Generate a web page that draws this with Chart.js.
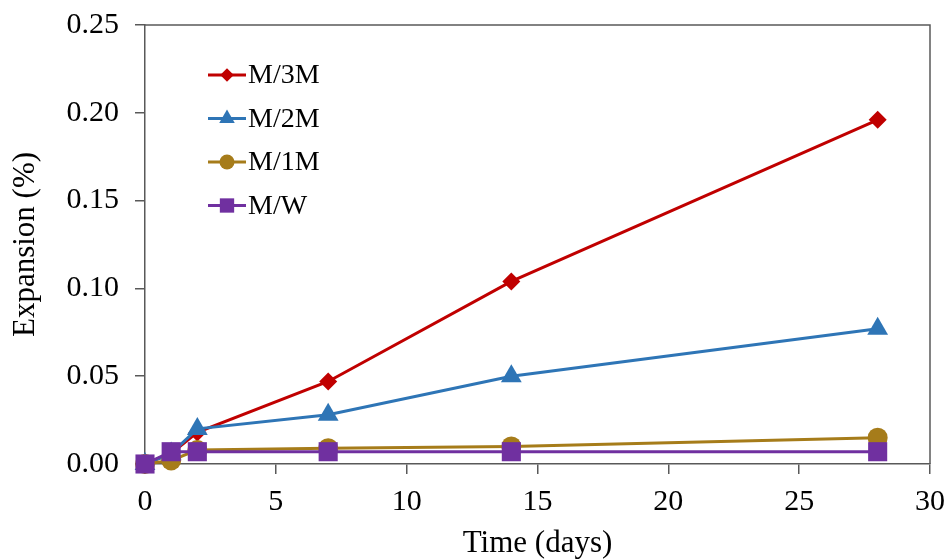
<!DOCTYPE html>
<html>
<head>
<meta charset="utf-8">
<script src="https://cdn.jsdelivr.net/npm/chart.js@4"></script>
<style>
  html, body { margin: 0; padding: 0; background: #fff; }
  #wrap { width: 951px; height: 559px; position: relative; }
</style>
</head>
<body>
<div id="wrap"><canvas id="c" width="951" height="559"></canvas></div>
<script>
// ---- Data ----
const days = [0, 1, 2, 7, 14, 28];
const seriesNames = ['M/3M', 'M/2M', 'M/1M', 'M/W'];
const m3m = [0, 0.006, 0.018, 0.047, 0.104, 0.196];
const m2m = [0, 0.006, 0.020, 0.028, 0.050, 0.077];
const m1m = [0, 0.002, 0.008, 0.009, 0.010, 0.015];
const mw  = [0, 0.007, 0.007, 0.007, 0.007, 0.007];
const xTicks = [0, 5, 10, 15, 20, 25, 30];
const yTicks = [0, 0.05, 0.10, 0.15, 0.20, 0.25];
const xTitle = 'Time (days)';
const yTitle = 'Expansion (%)';

// ---- Styles ----
const colors = ['#C00000', '#2E75B6', '#A67C1A', '#7030A0'];
const shapes = ['rectRot', 'triangle', 'circle', 'rect'];
const radii = [9, 12, 10, 13.5];
const values = [m3m, m2m, m1m, mw];
const FONT = "'Liberation Serif', 'Times New Roman', serif";

const datasets = values.map((vals, i) => ({
  label: seriesNames[i],
  data: days.map((d, j) => ({ x: d, y: vals[j] })),
  borderColor: colors[i],
  backgroundColor: colors[i],
  borderWidth: 3,
  pointStyle: shapes[i],
  pointRadius: radii[i],
  pointHoverRadius: radii[i],
  pointBorderWidth: 0,
  tension: 0,
  clip: false,
  order: 3 - i
}));

function drawMarker(ctx, style, r, x, y, color) {
  if (Chart.helpers && Chart.helpers.drawPoint) {
    ctx.fillStyle = color; ctx.strokeStyle = color; ctx.lineWidth = 0.001;
    Chart.helpers.drawPoint(ctx, { pointStyle: style, radius: r, rotation: 0, borderWidth: 0 }, x, y);
    return;
  }
  ctx.fillStyle = color;
  ctx.beginPath();
  if (style === 'circle') ctx.arc(x, y, r, 0, Math.PI * 2);
  else if (style === 'rect') { const s = r * Math.SQRT1_2; ctx.rect(x - s, y - s, 2 * s, 2 * s); }
  else if (style === 'rectRot') { ctx.moveTo(x - r, y); ctx.lineTo(x, y - r); ctx.lineTo(x + r, y); ctx.lineTo(x, y + r); ctx.closePath(); }
  else if (style === 'triangle') {
    let a = 0; ctx.moveTo(x + Math.sin(a) * r, y - Math.cos(a) * r);
    a += 2 * Math.PI / 3; ctx.lineTo(x + Math.sin(a) * r, y - Math.cos(a) * r);
    a += 2 * Math.PI / 3; ctx.lineTo(x + Math.sin(a) * r, y - Math.cos(a) * r);
    ctx.closePath();
  }
  ctx.fill();
}

const framePlugin = {
  id: 'frame',
  beforeDatasetsDraw(chart) {
    const { ctx, chartArea: a } = chart;
    ctx.save();
    ctx.strokeStyle = '#595959';
    ctx.lineWidth = 1.5;
    ctx.beginPath();
    ctx.moveTo(a.left, a.top);
    ctx.lineTo(a.right, a.top);
    ctx.lineTo(a.right, a.bottom);
    ctx.stroke();
    ctx.restore();
  }
};

const legendPlugin = {
  id: 'innerLegend',
  afterDatasetsDraw(chart) {
    const ctx = chart.ctx;
    ctx.save();
    chart.data.datasets.forEach((ds, i) => {
      const y = 75 + i * 43.5;
      ctx.strokeStyle = ds.borderColor;
      ctx.lineWidth = 3;
      ctx.beginPath();
      ctx.moveTo(208, y);
      ctx.lineTo(246, y);
      ctx.stroke();
      drawMarker(ctx, ds.pointStyle, ds.pointRadius * 0.75, 227, y, ds.backgroundColor);
      ctx.fillStyle = '#000';
      ctx.font = '28px ' + FONT;
      ctx.textBaseline = 'middle';
      ctx.textAlign = 'left';
      ctx.fillText(ds.label, 248, y + 1);
    });
    ctx.restore();
  }
};

new Chart(document.getElementById('c'), {
  type: 'line',
  data: { datasets },
  plugins: [framePlugin, legendPlugin],
  options: {
    responsive: false,
    animation: false,
    events: [],
    layout: { padding: { left: 7, right: 21, top: 25, bottom: 0 } },
    plugins: { legend: { display: false }, tooltip: { enabled: false } },
    scales: {
      x: {
        type: 'linear',
        min: xTicks[0], max: xTicks[xTicks.length - 1],
        afterBuildTicks: s => { s.ticks = xTicks.map(v => ({ value: v })); },
        afterFit: s => { s.height = 559 - 464; s.paddingLeft = 0; s.paddingRight = 0; },
        ticks: { font: { family: FONT, size: 30 }, color: '#000', padding: 10, maxRotation: 0,
                 callback: v => String(v) },
        grid: { display: true, drawOnChartArea: false, drawTicks: true, tickLength: 10, color: '#595959', lineWidth: 1.5 },
        border: { display: true, color: '#595959', width: 1.5 },
        title: { display: true, text: xTitle, font: { family: FONT, size: 31 }, color: '#000', padding: { top: 2, bottom: -3 } }
      },
      y: {
        type: 'linear',
        min: yTicks[0], max: yTicks[yTicks.length - 1],
        afterBuildTicks: s => { s.ticks = yTicks.map(v => ({ value: v })); },
        afterFit: s => { s.width = 145 - 7; s.paddingTop = 0; s.paddingBottom = 0; },
        ticks: { font: { family: FONT, size: 30 }, color: '#000', padding: 16,
                 callback: v => Number(v).toFixed(2) },
        grid: { display: true, drawOnChartArea: false, drawTicks: true, tickLength: 10, color: '#595959', lineWidth: 1.5 },
        border: { display: true, color: '#595959', width: 1.5 },
        title: { display: true, text: yTitle, font: { family: FONT, size: 31 }, color: '#000', padding: { top: 0, bottom: 0 } }
      }
    }
  }
});
</script>
</body>
</html>
